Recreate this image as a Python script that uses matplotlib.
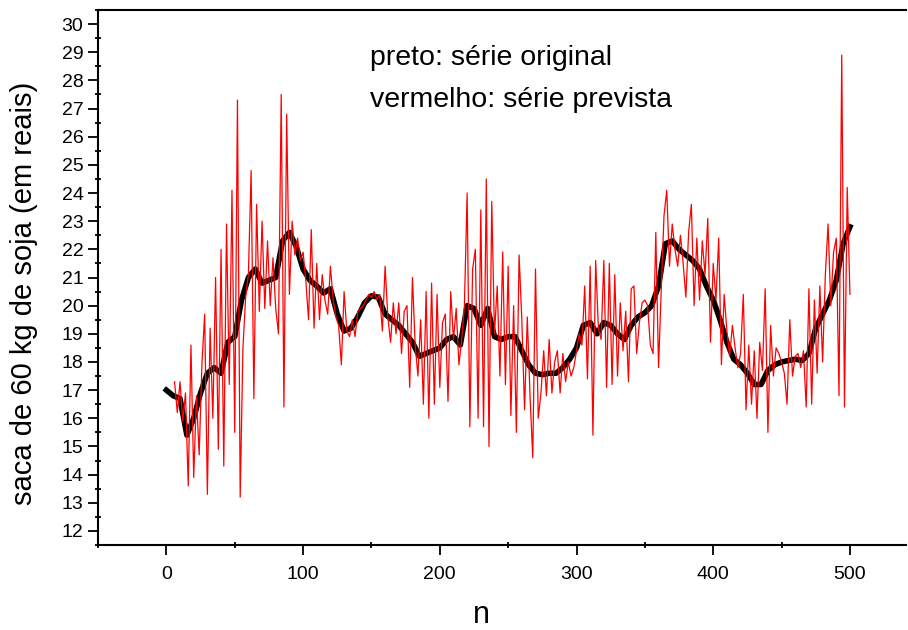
import numpy as np
import matplotlib.pyplot as plt
from matplotlib.ticker import MultipleLocator

plt.rcParams['font.family'] = ['Liberation Sans', 'DejaVu Sans']

# serie original (preto), lida a cada 5 pontos
orig_n = np.arange(0, 501, 5)
orig_val = [
    17.0, 16.8, 16.7, 15.4, 16.0, 16.9, 17.6, 17.8, 17.6, 18.7,
    18.9, 20.2, 21.0, 21.3, 20.8, 20.9, 21.0, 22.3, 22.6, 22.1,
    21.3, 20.9, 20.7, 20.45, 20.6, 19.7, 19.1, 19.2, 19.6, 20.1,
    20.35, 20.3, 19.7, 19.5, 19.3, 19.0, 18.7, 18.2, 18.3, 18.4,
    18.5, 18.8, 18.9, 18.6, 20.0, 19.9, 19.3, 19.9, 18.9, 18.8,
    18.9, 18.9, 18.4, 17.9, 17.6, 17.55, 17.6, 17.6, 17.8, 18.1,
    18.5, 19.3, 19.4, 19.0, 19.4, 19.3, 19.0, 18.8, 19.3, 19.6,
    19.75, 20.0, 20.7, 22.2, 22.3, 22.0, 21.8, 21.6, 21.3, 20.7,
    20.2, 19.5, 18.7, 18.1, 17.9, 17.6, 17.2, 17.2, 17.7, 17.9,
    18.0, 18.05, 18.1, 18.05, 18.3, 19.2, 19.7, 20.2, 20.9, 22.2,
    22.8,
]

# serie prevista (vermelho), lida a cada 2 pontos
prev_n = np.arange(6, 501, 2)
prev_val = [
    17.3, 16.2, 17.3, 15.9, 16.9, 13.6, 18.6, 13.9, 16.8, 14.7,
    17.9, 19.7, 13.3, 19.2, 16.0, 21.0, 14.9, 22.0, 14.3, 22.9,
    17.2, 24.1, 15.5, 27.3, 13.2, 18.5, 20.3, 21.1, 24.8, 16.7,
    23.6, 19.8, 23.0, 19.9, 22.3, 20.0, 21.7, 19.9, 19.0, 27.5,
    16.4, 26.8, 20.4, 23.0, 21.8, 22.4, 21.6, 21.9, 20.9, 19.5,
    22.7, 19.2, 21.5, 19.5, 21.1, 20.2, 19.7, 21.4, 20.2, 19.6,
    19.3, 17.9, 20.5, 19.1, 18.9, 19.5, 18.9, 19.8, 19.9, 20.0,
    20.2, 20.4, 20.3, 20.5, 20.2, 20.4, 19.1, 21.4, 19.6, 18.7,
    20.1, 19.0, 20.1, 18.3, 19.8, 20.0, 17.1, 21.0, 18.6, 17.5,
    19.5, 16.5, 20.5, 16.0, 20.8, 16.5, 20.4, 17.1, 19.4, 19.7,
    16.6, 20.5, 18.8, 19.9, 17.9, 18.8, 20.0, 24.0, 15.7, 21.3,
    22.0, 16.0, 23.4, 15.7, 24.5, 15.0, 23.7, 19.0, 20.7, 17.5,
    21.9, 17.2, 21.4, 16.1, 20.0, 15.5, 21.8, 19.5, 16.3, 19.6,
    16.8, 14.6, 21.3, 16.0, 16.9, 18.4, 16.8, 18.8, 16.9, 18.0,
    18.4, 16.9, 18.3, 17.3, 18.0, 17.5, 17.8, 18.4, 19.0, 18.6,
    20.7, 17.4, 21.4, 15.4, 21.6, 19.2, 18.8, 21.6, 17.1, 21.5,
    17.2, 21.1, 17.5, 20.1, 18.4, 19.8, 17.3, 20.6, 20.7, 18.3,
    19.4, 20.1, 20.2, 20.0, 18.6, 18.3, 22.6, 17.8, 20.6, 23.2,
    24.1, 21.4, 22.9, 22.0, 21.4, 22.5, 21.5, 20.3, 22.6, 23.6,
    20.0, 22.4, 20.2, 22.3, 21.1, 23.1, 18.7, 21.5, 20.2, 22.4,
    17.9, 20.4, 19.1, 18.2, 19.3, 18.5, 17.8, 18.3, 20.4, 16.3,
    18.6, 16.5, 18.4, 16.0, 18.7, 17.7, 20.6, 15.5, 19.3, 17.5,
    18.5, 18.3, 18.0, 17.6, 16.5, 19.5, 17.5, 18.2, 18.3, 17.8,
    18.4, 16.4, 20.6, 16.5, 20.2, 17.6, 20.7, 18.0, 21.1, 22.9,
    20.0, 21.9, 22.4, 16.8, 28.9, 16.4, 24.2, 20.4,
]

fig = plt.figure(figsize=(9.08, 6.3), dpi=100)
ax = fig.add_axes([98/908, 85/630, 808/908, 535/630])

ax.plot(orig_n, orig_val, color='black', lw=4, solid_joinstyle='round')
ax.plot(prev_n, prev_val, color='red', lw=0.9)

ax.set_xlim(-50, 541)
ax.set_ylim(11.5, 30.5)

ax.xaxis.set_major_locator(MultipleLocator(100))
ax.xaxis.set_minor_locator(MultipleLocator(50))
ax.yaxis.set_major_locator(MultipleLocator(1))
ax.yaxis.set_minor_locator(MultipleLocator(0.5))

ax.spines['right'].set_visible(False)
for s in ['left', 'bottom', 'top']:
    ax.spines[s].set_linewidth(1.5)

ax.tick_params(which='major', direction='out', length=7, width=1.3, labelsize=14)
ax.tick_params(which='minor', direction='inout', length=4, width=1.3)
ax.tick_params(axis='x', which='major', pad=8)

ax.set_ylabel('saca de 60 kg de soja (em reais)', fontsize=21, va='center')
ax.yaxis.set_label_coords(-0.092, 0.47)
ax.set_xlabel('n', fontsize=22, va='center')
ax.xaxis.set_label_coords(0.474, -0.13)

ax.text(149, 28.8, 'preto: série original', fontsize=20.5, va='center')
ax.text(149, 27.3, 'vermelho: série prevista', fontsize=20.5, va='center')

fig.savefig('out.png', dpi=100)
